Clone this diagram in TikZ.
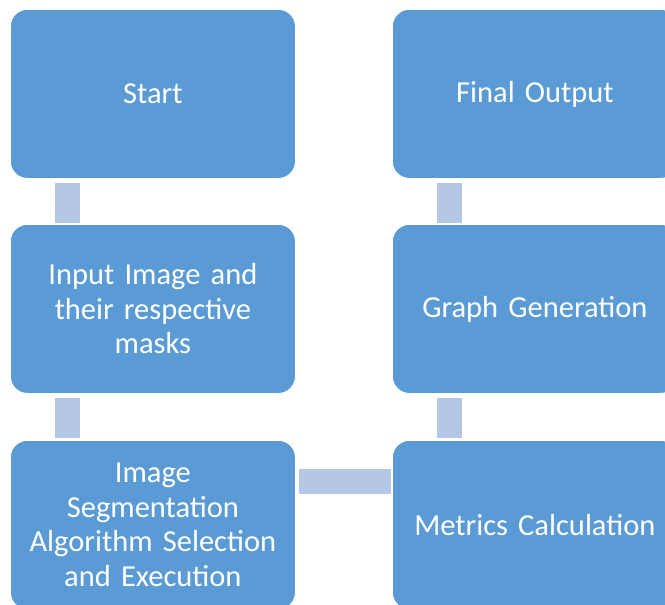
\documentclass[tikz,border=0pt]{standalone}
\usepackage{fontspec}
\setmainfont{Carlito}
\begin{document}
\begin{tikzpicture}[x=1pt,y=-1pt,
  box/.style={draw=white,line width=0.8pt,fill=boxblue,rounded corners=17pt,
    minimum width=285pt,minimum height=169pt,inner sep=0pt,anchor=north west,
    text=white,align=center,font=\fontsize{30.5}{34.5}\selectfont,text width=280pt},
  link/.style={draw=white,line width=0.5pt,fill=linkblue}]
\definecolor{boxblue}{HTML}{5B9BD5}
\definecolor{linkblue}{HTML}{B4C7E7}
\useasboundingbox (0,0) rectangle (665,605);
\clip (0,0) rectangle (665,605);
\node[box] (start) at (10,9) {Start};
\node[box] (input) at (10,224) {Input Image and\\their respective\\masks};
\node[box] (seg) at (10,440) {Image\\Segmentation\\Algorithm Selection\\and Execution};
\node[box] (final) at (392,9) {Final Output};
\node[box] (graph) at (392,224) {Graph Generation};
\node[box] (metrics) at (392,440) {Metrics Calculation};
\path[link] (start.south west) ++(44,3) rectangle ++(26,41);
\path[link] (input.south west) ++(44,3) rectangle ++(26,41);
\path[link] (final.south west) ++(44,3) rectangle ++(26,41);
\path[link] (graph.south west) ++(44,3) rectangle ++(26,41);
\path[link] (seg.north east) ++(2,28) rectangle ++(93,26);
\end{tikzpicture}
\end{document}
